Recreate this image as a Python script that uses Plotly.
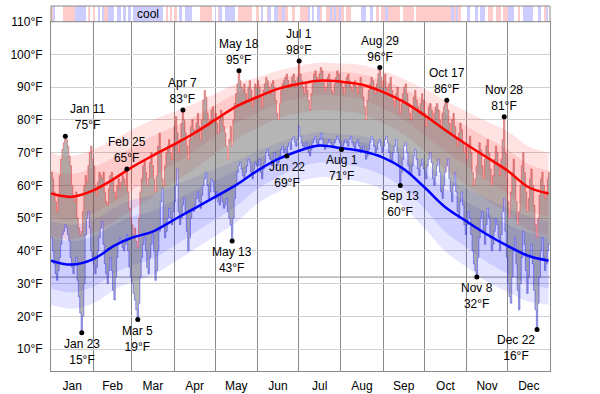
import plotly.graph_objects as go

# ---------------- data ----------------
months = ["Jan", "Feb", "Mar", "Apr", "May", "Jun", "Jul", "Aug", "Sep", "Oct", "Nov", "Dec"]
month_lengths = [31, 28, 31, 30, 31, 30, 31, 31, 30, 31, 30, 31]
y_ticks = [10, 20, 30, 40, 50, 60, 70, 80, 90, 100, 110]
freezing_f = 32

# smoothed averages and percentile bands (day of year, 0 = Jan 1)
band_days = [0, 15, 31, 46, 59, 74, 90, 105, 120, 135, 151, 166, 181, 196, 212, 227, 243, 258, 273, 288, 304, 319, 334, 349, 364]
avg_high = [57.5, 56.5, 58.5, 62, 65.5, 69, 72.5, 76, 80, 84, 87, 89.5, 91, 92, 91.7, 90.8, 88.5, 85.5, 81.5, 77, 72.5, 68.5, 64.5, 59.5, 57.5]
high_p90 = [70, 69, 71, 74, 77, 80, 82.5, 85, 88, 91, 93, 95, 96.5, 97.5, 97.2, 96.8, 95, 92.5, 89.5, 86, 82.5, 79.5, 76.5, 72, 70]
high_p75 = [64.5, 63.5, 65.5, 68.5, 71.5, 75, 78, 81, 84.5, 88, 90.5, 92.5, 94, 95, 94.7, 94, 92, 89.5, 86, 82, 78, 74.5, 71, 66.5, 64.5]
high_p25 = [50.5, 49.5, 51.5, 55, 58.5, 62.5, 66.5, 70.5, 75, 79, 82, 85, 86.5, 87.5, 87.2, 86.3, 83.5, 80, 75.5, 70.5, 66, 61.5, 57.5, 52.5, 50.5]
high_p10 = [44.5, 43.5, 45.5, 49, 52.5, 56.5, 61, 65, 69.5, 74, 77.5, 80.5, 82, 83, 82.7, 81.8, 79, 75.5, 70.5, 65, 60, 55.5, 51.5, 46.5, 44.5]
avg_low = [37, 35.8, 37.5, 41.5, 44, 45.8, 49.5, 53, 56.5, 60, 64.5, 68, 70.5, 72.2, 71.4, 70.5, 68.5, 65, 59.5, 53.5, 49, 45, 41.5, 38.5, 37]
low_p90 = [49, 48, 49.5, 53, 55.5, 57, 60, 62.5, 65, 67.5, 70.5, 73, 75, 76.2, 75.6, 75, 73.5, 71, 67, 62.5, 59, 56, 53, 50.5, 49]
low_p75 = [44, 43, 44.5, 48, 50.5, 52, 55.5, 58.5, 61.5, 64.5, 68, 71, 73, 74.5, 73.9, 73.2, 71.5, 68.5, 64, 59, 55, 51.5, 48, 45.5, 44]
low_p25 = [28.5, 27.3, 29, 33, 35.5, 37.5, 41.5, 45.5, 49.5, 53.5, 59, 62.5, 65.5, 67, 66.4, 65.5, 63, 59, 53, 46, 41, 36.5, 33, 30, 28.5]
low_p10 = [23.5, 22.3, 24, 28, 30.5, 32.5, 36.5, 40.5, 44.5, 48.5, 54.5, 58, 61, 62.5, 62, 61, 58.5, 53.5, 47, 40, 35, 30.5, 27.5, 24.5, 23.5]

# daily observed highs / lows, one list per month
daily_high = [
    [64, 62, 58, 55, 52, 57, 63, 68, 71, 73, 75, 74, 72, 69, 66, 60, 57, 55, 58, 50, 47, 45, 46, 52, 60, 63, 61, 66, 70, 72, 68],
    [66, 60, 57, 61, 64, 63, 62, 64, 58, 55, 54, 59, 63, 64, 62, 58, 56, 60, 62, 59, 61, 63, 62, 60, 65, 58, 53, 50],
    [48, 45, 47, 43, 41, 50, 58, 62, 66, 68, 64, 60, 62, 67, 70, 66, 62, 58, 63, 72, 76, 70, 62, 60, 66, 70, 72, 74, 70, 68, 72],
    [78, 81, 76, 70, 74, 79, 83, 80, 76, 72, 68, 74, 78, 80, 77, 75, 79, 82, 78, 74, 80, 86, 89, 87, 82, 78, 80, 83, 84, 80],
    [82, 79, 76, 80, 83, 81, 78, 76, 72, 68, 74, 78, 72, 80, 85, 88, 91, 95, 92, 90, 89, 91, 88, 86, 90, 92, 89, 84, 87, 91, 90],
    [92, 90, 87, 84, 89, 91, 93, 92, 90, 88, 91, 92, 90, 86, 82, 80, 85, 89, 91, 92, 93, 94, 92, 90, 91, 93, 94, 92, 90, 93],
    [98, 94, 92, 90, 88, 91, 89, 86, 83, 88, 91, 94, 95, 93, 92, 94, 96, 95, 92, 89, 90, 93, 94, 92, 89, 88, 91, 93, 95, 94, 92],
    [92, 90, 88, 91, 93, 94, 92, 90, 89, 91, 92, 90, 88, 91, 93, 90, 87, 84, 80, 86, 89, 91, 93, 92, 90, 88, 91, 94, 96, 93, 90],
    [92, 94, 90, 88, 91, 93, 89, 86, 84, 88, 90, 86, 82, 85, 88, 90, 91, 88, 85, 82, 80, 84, 87, 89, 86, 84, 82, 85, 88, 86],
    [82, 78, 80, 84, 85, 83, 80, 82, 84, 85, 83, 80, 78, 82, 84, 85, 86, 83, 79, 76, 80, 82, 78, 74, 72, 76, 79, 77, 73, 70, 72],
    [68, 72, 75, 70, 64, 60, 62, 66, 70, 73, 71, 66, 62, 68, 72, 74, 70, 65, 60, 63, 68, 72, 70, 66, 63, 68, 74, 81, 70, 62],
    [55, 50, 58, 64, 68, 62, 55, 48, 52, 60, 66, 70, 64, 58, 52, 56, 62, 65, 60, 54, 48, 44, 50, 57, 62, 64, 60, 56, 58, 62, 64],
]
daily_low = [
    [44, 40, 36, 33, 31, 34, 38, 42, 45, 46, 48, 47, 45, 43, 38, 35, 33, 36, 38, 31, 26, 21, 15, 20, 30, 45, 50, 52, 47, 40, 38],
    [36, 33, 35, 40, 44, 47, 49, 42, 36, 33, 30, 34, 38, 34, 28, 25, 32, 38, 42, 44, 43, 41, 40, 42, 45, 40, 35, 32],
    [30, 27, 25, 22, 19, 24, 32, 38, 42, 44, 40, 35, 33, 38, 42, 45, 40, 31, 34, 40, 46, 55, 59, 48, 44, 46, 50, 53, 50, 48, 52],
    [55, 60, 65, 52, 48, 50, 54, 56, 52, 46, 40, 44, 50, 53, 52, 54, 56, 58, 55, 53, 57, 60, 62, 64, 60, 56, 58, 62, 61, 58],
    [56, 58, 55, 54, 57, 55, 53, 54, 56, 52, 50, 48, 43, 50, 56, 60, 64, 66, 67, 65, 63, 62, 64, 66, 68, 67, 64, 62, 65, 67, 66],
    [66, 68, 64, 62, 65, 67, 70, 71, 69, 68, 66, 67, 70, 68, 66, 67, 69, 71, 72, 70, 71, 69, 72, 73, 71, 74, 75, 73, 72, 74],
    [78, 75, 73, 72, 71, 73, 72, 70, 69, 71, 73, 74, 75, 73, 72, 74, 76, 74, 72, 71, 72, 73, 74, 73, 72, 72, 73, 74, 75, 74, 73],
    [71, 72, 73, 74, 73, 72, 74, 75, 73, 72, 71, 73, 74, 72, 70, 71, 72, 70, 68, 69, 71, 73, 75, 74, 72, 70, 71, 73, 74, 72, 70],
    [72, 74, 75, 73, 70, 68, 67, 70, 72, 74, 70, 66, 60, 64, 68, 72, 73, 70, 66, 64, 63, 66, 69, 71, 68, 65, 63, 66, 68, 65],
    [64, 62, 66, 68, 70, 67, 62, 60, 63, 66, 68, 64, 58, 56, 60, 64, 66, 68, 62, 58, 55, 60, 64, 58, 52, 50, 55, 58, 54, 48, 45],
    [48, 52, 50, 45, 40, 36, 34, 32, 38, 44, 50, 52, 46, 42, 48, 53, 50, 44, 40, 42, 46, 50, 48, 44, 40, 45, 52, 56, 46, 38],
    [30, 26, 24, 32, 40, 44, 36, 28, 22, 30, 38, 46, 42, 34, 27, 32, 38, 42, 36, 28, 22, 16, 24, 32, 40, 44, 38, 34, 36, 40, 42],
]

# labelled extremes: (month index, day of month, temperature, kind)
ext_month = [0, 0, 1, 2, 3, 4, 4, 5, 6, 7, 7, 8, 9, 10, 10, 11]
ext_dom = [11, 23, 25, 5, 7, 13, 18, 22, 1, 1, 29, 13, 17, 8, 28, 22]
ext_temp = [75, 15, 65, 19, 83, 43, 95, 69, 98, 71, 96, 60, 86, 32, 81, 16]
ext_kind = ["high", "low", "high", "low", "high", "low", "high", "low", "high", "low", "high", "low", "high", "low", "high", "low"]

# warm / cool / normal strip (run start day, kind)
strip_start = [0, 1.5, 3, 9, 17.5, 25.3, 26.8, 28.5, 31, 32, 34.6, 35.8, 37.5, 39, 42, 46.8, 48, 51.7, 52.9, 54.6, 56.5, 58.5,
               60.2, 82, 83.8, 85.3, 87, 88.7, 90, 91.9, 94.3, 95.5, 98, 103.3, 109, 117.4, 120, 121, 122.3, 123.5, 124.8,
               127.2, 134.5, 137, 147.2, 150.3, 152, 154, 155.2, 157.7, 159.4, 160.8, 163.3, 166.2, 168.6, 171, 173.5, 176,
               178.4, 182, 188, 189.6, 191, 192.5, 195, 196.4, 198.3, 201.5, 204, 205.7, 207.1, 208.8, 210.5, 212, 214.4,
               216.1, 219.8, 227, 230.7, 233.2, 235.6, 238, 240.5, 241.7, 244.1, 246.6, 255.1, 257.6, 266.1, 267.3, 292.9,
               295.3, 296.5, 297.8, 300.2, 305, 306.3, 310, 312.4, 313.6, 317.3, 319.7, 323.3, 325.8, 329.4, 330.6, 334.3,
               338.7, 341.6, 342.8, 345.3, 352.6, 356.2, 358.7, 360.6, 362.3, 363.5, 365]
strip_kind = ["w", "c", "n", "w", "c", "n", "w", "n", "w", "n", "c", "n", "c", "w", "c", "n", "c", "n", "c", "n", "c", "n",
              "c", "n", "w", "n", "w", "n", "w", "n", "c", "n", "c", "n", "w", "n", "c", "n", "w", "c", "n",
              "c", "n", "w", "n", "w", "n", "c", "n", "w", "c", "n", "c", "w", "c", "w", "n", "w",
              "n", "w", "c", "n", "c", "n", "c", "w", "n", "w", "c", "w", "c", "w", "c", "w", "n",
              "w", "n", "c", "n", "c", "n", "w", "n", "w", "c", "w", "n", "w", "n", "w", "c",
              "w", "c", "w", "n", "c", "n", "c", "n", "c", "n", "w", "n", "w", "n", "w", "c",
              "n", "w", "n", "c", "n", "c", "n", "w", "c", "n"]
strip_label = "cool"

# ---------------- derived ----------------
for m in range(12):
    assert len(daily_high[m]) == month_lengths[m], ("high", m, len(daily_high[m]))
    assert len(daily_low[m]) == month_lengths[m], ("low", m, len(daily_low[m]))
assert len(strip_kind) == len(strip_start) - 1, (len(strip_kind), len(strip_start))

month_starts = [sum(month_lengths[:i]) for i in range(12)]
month_mid = [s + n / 2 for s, n in zip(month_starts, month_lengths)]
highs = [v for m in daily_high for v in m]
lows = [v for m in daily_low for v in m]
step_x = list(range(len(highs) + 1))
step_high = highs + [highs[-1]]
step_low = lows + [lows[-1]]

FONT = "Liberation Sans, Arial, sans-serif"
fig = go.Figure()


def band(lo, hi, color):
    fig.add_trace(go.Scatter(x=band_days, y=lo, mode="lines", line=dict(width=0, shape="spline"),
                             hoverinfo="skip", showlegend=False))
    fig.add_trace(go.Scatter(x=band_days, y=hi, mode="lines", line=dict(width=0, shape="spline"),
                             fill="tonexty", fillcolor=color, hoverinfo="skip", showlegend=False))


band(high_p10, high_p90, "rgba(255,0,0,0.11)")
band(high_p25, high_p75, "rgba(255,0,0,0.11)")
band(low_p10, low_p90, "rgba(0,0,255,0.10)")
band(low_p25, low_p75, "rgba(0,0,255,0.10)")

# daily observed range
fig.add_trace(go.Scatter(x=step_x, y=step_low, mode="lines",
                         line=dict(width=1, color="rgba(40,40,255,0.45)", shape="hv"),
                         hoverinfo="skip", showlegend=False))
fig.add_trace(go.Scatter(x=step_x, y=step_high, mode="lines",
                         line=dict(width=1, color="rgba(255,40,40,0.45)", shape="hv"),
                         fill="tonexty", fillcolor="rgba(90,90,90,0.45)",
                         hoverinfo="skip", showlegend=False))

# averages
fig.add_trace(go.Scatter(x=band_days, y=avg_high, mode="lines",
                         line=dict(width=2.5, color="#ff0000", shape="spline"), showlegend=False))
fig.add_trace(go.Scatter(x=band_days, y=avg_low, mode="lines",
                         line=dict(width=2.5, color="#0000ff", shape="spline"), showlegend=False))

# extremes
ext_x = [month_starts[m] + d - 1 + 0.5 for m, d in zip(ext_month, ext_dom)]
fig.add_trace(go.Scatter(x=ext_x, y=ext_temp, mode="markers",
                         marker=dict(size=5, color="black"), showlegend=False))
for x, m, d, t, k in zip(ext_x, ext_month, ext_dom, ext_temp, ext_kind):
    xanchor, xshift = "center", 0
    if x < 20:
        xanchor, xshift = "left", 3
    elif x > 350:
        xanchor, xshift = "right", 0
    fig.add_annotation(x=x, y=t, text=f"{months[m]} {d}<br>{t}°F", showarrow=False,
                       xanchor=xanchor, xshift=xshift,
                       yanchor="bottom" if k == "high" else "top",
                       yshift=2 if k == "high" else -2,
                       font=dict(size=12, color="black", family=FONT))

# strip on top
strip_colors = {"w": "#ffcccc", "c": "#ccccff", "n": "#ffffff"}
sx, sw, sc = [], [], []
for a, b, k in zip(strip_start[:-1], strip_start[1:], strip_kind):
    sx.append((a + b) / 2)
    sw.append(b - a)
    sc.append(strip_colors[k])
fig.add_trace(go.Bar(x=sx, y=[1] * len(sx), width=sw, marker=dict(color=sc, line=dict(width=0)),
                     yaxis="y2", hoverinfo="skip", showlegend=False))
lens = [b - a for a, b in zip(strip_start[:-1], strip_start[1:])]
longest_cool = max((i for i, k in enumerate(strip_kind) if k == "c"), key=lambda i: lens[i])
fig.add_annotation(x=sx[longest_cool], y=0.5, xref="x", yref="y2", text=strip_label, showarrow=False,
                   font=dict(size=12, color="black", family=FONT))

# freezing line
fig.add_shape(type="line", xref="x domain", x0=0, x1=1, yref="y", y0=freezing_f, y1=freezing_f,
              line=dict(color="#888888", width=1), layer="below")
# strip border
fig.add_shape(type="rect", xref="x domain", x0=0, x1=1, yref="y2 domain", y0=0, y1=1,
              line=dict(color="#888888", width=1))

H = 394
top, bottom = 6, 23.3
plot_h = H - top - bottom
split = (370.7 - 21.7) / plot_h

fig.update_layout(
    template="none",
    width=600, height=H,
    margin=dict(l=50.7, r=50, t=top, b=bottom, pad=0, autoexpand=False),
    paper_bgcolor="white", plot_bgcolor="white",
    font=dict(family=FONT, size=12, color="black"),
    bargap=0, barmode="overlay",
    xaxis=dict(range=[0, 365], tickmode="array", tickvals=month_mid, ticktext=months, ticks="",
               automargin=False,
               showgrid=False, zeroline=False, showline=True, linecolor="#888888", mirror=True,
               ticklabelstandoff=4, tickfont=dict(size=12),
               minor=dict(tickmode="array", tickvals=month_starts[1:], showgrid=True,
                          gridcolor="#888888", gridwidth=1, ticks="")),
    yaxis=dict(domain=[0, split], range=[3.3, 110], tickmode="array", tickvals=y_ticks,
               automargin=False,
               ticktext=[f"{v}°F" for v in y_ticks], showgrid=True, gridcolor="#d0d0d0", gridwidth=1,
               zeroline=False, showline=True, linecolor="#888888", mirror=True, ticks="",
               ticklabelstandoff=5, tickfont=dict(size=12)),
    yaxis2=dict(domain=[split, 1], range=[0, 1], showticklabels=False, showgrid=False, zeroline=False,
                anchor="x", fixedrange=True, automargin=False),
)

fig.write_html("out.html", config={"displayModeBar": False},
               post_script="document.body.style.margin='0';document.body.style.padding='0';")
